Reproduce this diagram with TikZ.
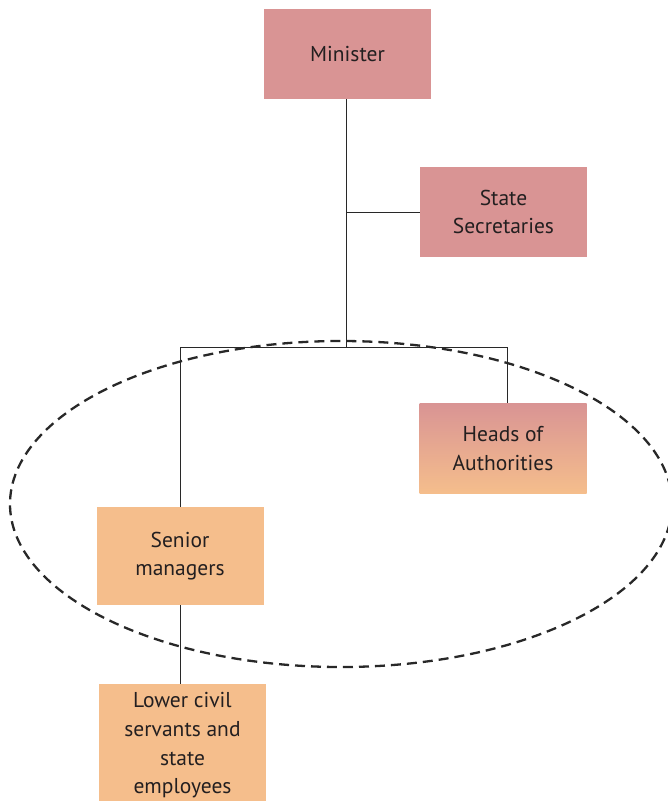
\documentclass[tikz,border=0pt]{standalone}
\usepackage{fontspec}
\setmainfont{PT Sans}
\usetikzlibrary{shapes.geometric}
\definecolor{rosebox}{RGB}{217,148,148}
\definecolor{orangebox}{RGB}{245,190,140}
\definecolor{textdark}{RGB}{35,31,32}
\definecolor{linegray}{RGB}{40,40,40}
\begin{document}
\begin{tikzpicture}[x=1pt,y=-1pt,
  box/.style={draw=none,minimum width=167pt,minimum height=90pt,align=center,
    text=textdark,font=\fontsize{21.5}{28.5}\selectfont,inner sep=0pt},
  rosefill/.style={fill=rosebox},
  orangefill/.style={fill=orangebox},
  gradfill/.style={top color=rosebox,bottom color=orangebox},
  conn/.style={draw=linegray,line width=0.9pt},
  oval/.style={draw=linegray,line width=2.3pt,dash pattern=on 10pt off 6pt}]
\useasboundingbox (0,0) rectangle (668,801);
\clip (0,0) rectangle (668,801);
\node[box,rosefill] (min) at (347.5,54) {Minister};
\node[box,rosefill] (sec) at (503.5,212) {State\\Secretaries};
\node[box,gradfill] (heads) at (503,448.5) {Heads of\\Authorities};
\node[box,orangefill,minimum height=98pt] (sen) at (180,556) {Senior\\managers};
\node[box,orangefill,minimum height=130pt,anchor=north] (low) at (182.5,684) {};
\node[text=textdark,font=\fontsize{21.5}{28.8}\selectfont,align=center,anchor=north,inner sep=0pt] (lowtxt) at (182.5,692) {Lower civil\\servants and\\state\\employees};
\coordinate (j1) at (346,212);
\coordinate (j2) at (346,347);
\coordinate (jl) at (180,347);
\coordinate (jr) at (507,347);
\draw[conn] (min.south -| j1) -- (j2);
\draw[conn] (j1) -- (sec.west);
\draw[conn] (sen.north -| jl) -- (jl) -- (jr) -- (heads.north -| jr);
\draw[conn] (sen.south) -- (low.north -| sen.south);
\node[oval,ellipse,minimum width=662pt,minimum height=326pt,inner sep=0pt] (ov) at (341,504) {};
\end{tikzpicture}
\end{document}
